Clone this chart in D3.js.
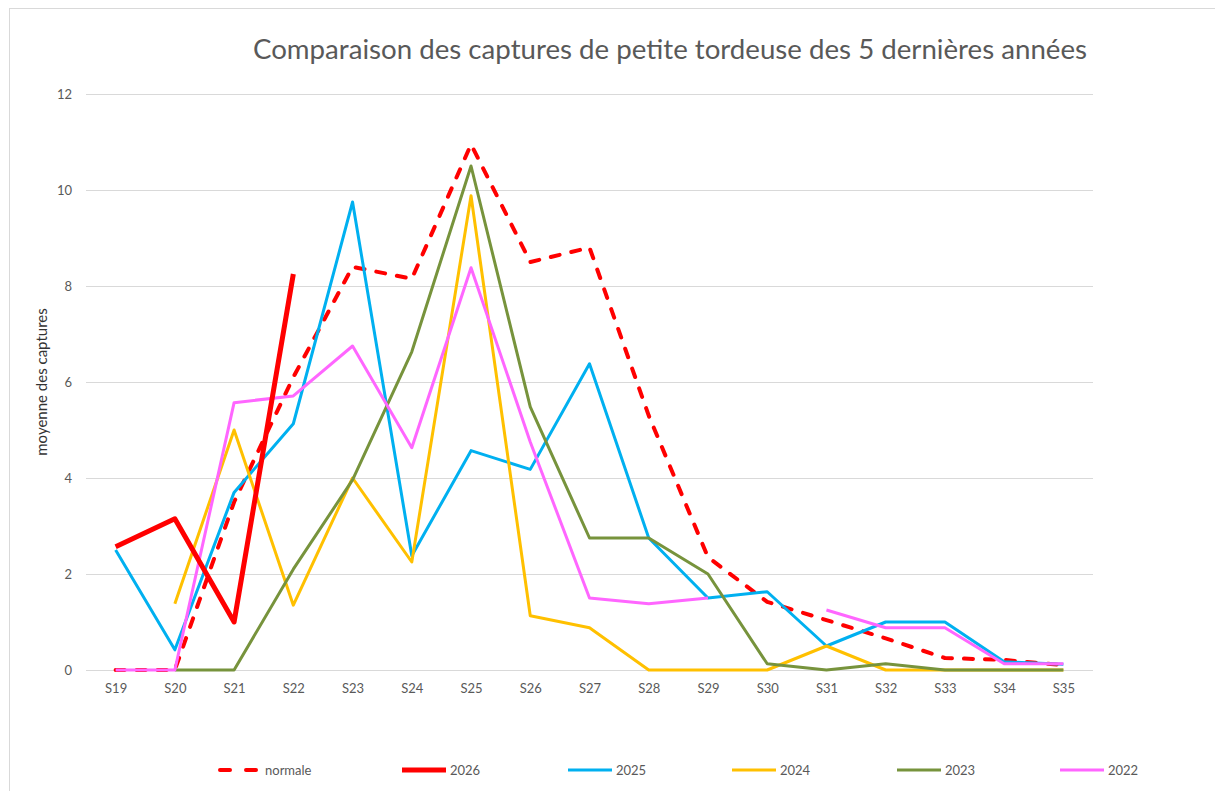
<!DOCTYPE html>
<html>
<head>
<meta charset="utf-8">
<script src="https://cdn.jsdelivr.net/npm/d3@7"></script>
<style>
  body { margin: 0; background: white; }
  svg { display: block; font-family: Lato, 'Open Sans', sans-serif; }
</style>
</head>
<body>
<svg id="chart"></svg>
<script>
let weeks = ['S19', 'S20', 'S21', 'S22', 'S23', 'S24', 'S25', 'S26', 'S27',
  'S28', 'S29', 'S30', 'S31', 'S32', 'S33', 'S34', 'S35'];
let yTicks = [0, 2, 4, 6, 8, 10, 12];

let normale = [0, 0, 3.5, 6.1, 8.4, 8.15, 10.95, 8.5, 8.8, 5.3, 2.35, 1.42, 1.04, 0.66, 0.25, 0.21, 0.1];
let y2026 = [2.57, 3.15, 1.0, 8.25, null, null, null, null, null, null, null, null, null, null, null, null, null];
let y2025 = [2.5, 0.42, 3.7, 5.13, 9.75, 2.38, 4.57, 4.18, 6.38, 2.75, 1.5, 1.63, 0.5, 1.0, 1.0, 0.17, 0.12];
let y2024 = [null, 1.38, 5.0, 1.35, 4.0, 2.25, 9.88, 1.13, 0.88, 0, 0, 0, 0.5, 0, 0, 0, 0];
let y2023 = [null, 0, 0, 2.1, 3.96, 6.63, 10.5, 5.48, 2.75, 2.75, 2.0, 0.13, 0, 0.13, 0, 0, 0];
let y2022 = [0, 0, 5.57, 5.71, 6.75, 4.63, 8.38, 4.75, 1.5, 1.38, 1.5, null, 1.25, 0.88, 0.88, 0.13, 0.13];

let series = [
  { name: 'normale', values: normale, color: '#ff0000', width: 4, dash: '9,12' },
  { name: '2026', values: y2026, color: '#ff0000', width: 5, dash: null },
  { name: '2025', values: y2025, color: '#00b0f0', width: 3, dash: null },
  { name: '2024', values: y2024, color: '#ffc000', width: 3, dash: null },
  { name: '2023', values: y2023, color: '#77933c', width: 3, dash: null },
  { name: '2022', values: y2022, color: '#ff66ff', width: 3, dash: null }
];

function createGraph() {
  let width = 1215;
  let height = 791;
  let margin = { top: 94, bottom: 121, left: 86, right: 122 };

  let svg = d3.select('#chart');
  svg.selectAll('*').remove();
  svg.attr('width', width).attr('height', height);

  // outer frame
  svg.append('rect')
    .attr('x', 9.5).attr('y', 8.5)
    .attr('width', width).attr('height', height)
    .attr('fill', 'white')
    .attr('stroke', '#d9d9d9');

  let xScale = d3.scalePoint()
    .domain(weeks)
    .range([margin.left, width - margin.right])
    .padding(0.5);

  let yScale = d3.scaleLinear()
    .domain([0, 12])
    .range([height - margin.bottom, margin.top]);

  // gridlines + y labels
  let yAxis = svg.append('g')
    .attr('transform', `translate(${margin.left}, 0)`)
    .call(d3.axisLeft(yScale)
      .tickValues(yTicks)
      .tickSize(-(width - margin.left - margin.right))
      .tickPadding(14));
  yAxis.select('.domain').remove();
  yAxis.selectAll('line').attr('stroke', '#d9d9d9').attr('stroke-width', 1);
  yAxis.selectAll('text')
    .style('fill', '#595959')
    .style('font-size', '13px')
    .style('font-family', 'Lato, sans-serif');

  // x labels
  let xAxis = svg.append('g')
    .attr('transform', `translate(0, ${height - margin.bottom})`)
    .call(d3.axisBottom(xScale).tickSize(0).tickPadding(14));
  xAxis.select('.domain').remove();
  xAxis.selectAll('text')
    .style('fill', '#595959')
    .style('font-size', '13px')
    .style('font-family', 'Lato, sans-serif');

  // title
  svg.append('text')
    .attr('x', 670)
    .attr('y', 59)
    .attr('text-anchor', 'middle')
    .attr('textLength', 834)
    .attr('lengthAdjust', 'spacingAndGlyphs')
    .style('font-size', '26px')
    .style('fill', '#595959')
    .text('Comparaison des captures de petite tordeuse des 5 dernières années');

  // y label
  svg.append('text')
    .attr('transform', 'translate(47, 382) rotate(-90)')
    .attr('text-anchor', 'middle')
    .style('font-size', '15px')
    .style('fill', '#333333')
    .text('moyenne des captures');

  // lines (2026 on top)
  let line = d3.line()
    .defined(d => d.v != null)
    .x(d => xScale(d.w))
    .y(d => yScale(d.v));

  let order = [0, 2, 3, 4, 5, 1];
  order.forEach(i => {
    let s = series[i];
    let pts = weeks.map((w, j) => ({ w: w, v: s.values[j] }));
    svg.append('path')
      .datum(pts)
      .attr('d', line)
      .attr('fill', 'none')
      .attr('stroke', s.color)
      .attr('stroke-width', s.width)
      .attr('stroke-linejoin', 'round')
      .attr('stroke-linecap', s.dash ? 'round' : 'butt')
      .attr('stroke-dasharray', s.dash);
  });

  // legend
  let legendX = [218, 402, 568, 732, 897, 1060];
  let legend = svg.append('g').attr('transform', 'translate(0, 770)');
  series.forEach((s, i) => {
    let g = legend.append('g').attr('transform', `translate(${legendX[i]}, 0)`);
    g.append('line')
      .attr('x1', s.dash ? 2 : 0).attr('x2', s.dash ? 40 : 44)
      .attr('y1', 0).attr('y2', 0)
      .attr('stroke', s.color)
      .attr('stroke-width', s.width)
      .attr('stroke-linecap', s.dash ? 'round' : 'butt')
      .attr('stroke-dasharray', s.dash ? '10,16' : null);
    g.append('text')
      .attr('x', s.dash ? 47 : 48)
      .attr('y', 0)
      .attr('dy', '0.35em')
      .style('font-size', '13px')
      .style('fill', '#595959')
      .text(s.name);
  });
}

createGraph();
</script>
</body>
</html>
